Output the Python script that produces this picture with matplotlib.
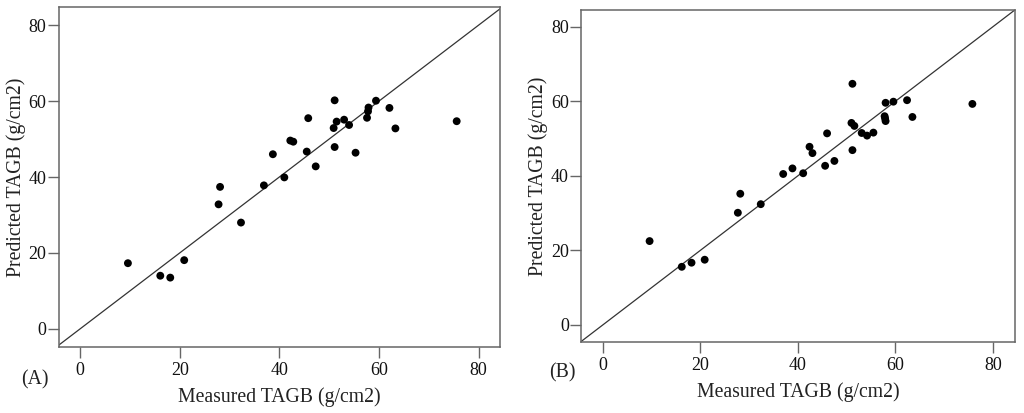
import numpy as np
import matplotlib.pyplot as plt

plt.rcParams['font.family'] = ['Liberation Serif', 'DejaVu Serif']

# panel A
meas_a = [9.6, 16.1, 18.1, 20.9, 27.8, 28.1, 32.3, 36.9, 38.7, 41.0, 42.2, 42.8,
          45.5, 45.8, 47.3, 50.9, 51.1, 51.1, 51.5, 53.0, 54.0, 55.3, 57.6, 57.8,
          57.9, 59.4, 62.1, 63.3, 75.6]
pred_a = [17.3, 14.0, 13.5, 18.1, 32.8, 37.4, 28.0, 37.8, 46.0, 39.9, 49.6, 49.3,
          46.7, 55.5, 42.8, 52.9, 60.2, 47.9, 54.6, 55.1, 53.7, 46.4, 55.6, 57.3,
          58.3, 60.1, 58.2, 52.8, 54.7]

# panel B
meas_b = [9.6, 16.2, 18.2, 20.9, 27.7, 28.2, 32.4, 37.0, 38.9, 41.1, 42.4, 43.0,
          45.6, 46.0, 47.5, 51.0, 51.2, 51.2, 51.6, 53.1, 54.2, 55.5, 57.8, 57.9,
          58.0, 58.0, 59.6, 62.4, 63.5, 75.8]
pred_b = [22.5, 15.6, 16.7, 17.5, 30.1, 35.2, 32.4, 40.5, 42.0, 40.7, 47.8, 46.1,
          42.7, 51.4, 44.0, 54.2, 64.7, 46.9, 53.4, 51.5, 50.8, 51.6, 56.0, 55.4,
          54.7, 59.6, 59.9, 60.3, 55.8, 59.3]

ticks = [0, 20, 40, 60, 80]

fig = plt.figure(figsize=(10.24, 4.13), dpi=100)
ax_a = fig.add_axes([0.0573, 0.1605, 0.4310, 0.8218])
ax_b = fig.add_axes([0.5677, 0.1726, 0.4238, 0.8032])

panels = [(ax_a, meas_a, pred_a, (-4.3, 84.3), (-4.7, 84.7)),
          (ax_b, meas_b, pred_b, (-4.4, 84.6), (-4.5, 84.5))]

for ax, x, y, xl, yl in panels:
    ax.plot([-10, 100], [-10, 100], color='#333333', lw=0.9, zorder=1)
    ax.scatter(x, y, s=32, color='black', edgecolors='none', zorder=2)
    ax.set_xlim(*xl)
    ax.set_ylim(*yl)
    ax.set_xticks(ticks)
    ax.set_yticks(ticks)
    ax.tick_params(direction='out', length=8, width=1, colors='#666666',
                   labelcolor='#111111', labelsize=13)
    ax.tick_params(axis='x', pad=3)
    ax.tick_params(axis='y', pad=1)
    for s in ax.spines.values():
        s.set_color('#666666')
        s.set_linewidth(1.1)
    ax.set_xlabel('Measured TAGB (g/cm2)', fontsize=14.2, color='#222222', labelpad=6)
    ax.set_ylabel('Predicted TAGB (g/cm2)', fontsize=14.2, color='#222222', labelpad=2)

fig.text(35 / 1024, 1 - 380 / 413, '(A)', fontsize=14.2, ha='center', va='center', color='#222222')
fig.text(562 / 1024, 1 - 373 / 413, '(B)', fontsize=14.2, ha='center', va='center', color='#222222')

fig.savefig('out.png', dpi=100)
